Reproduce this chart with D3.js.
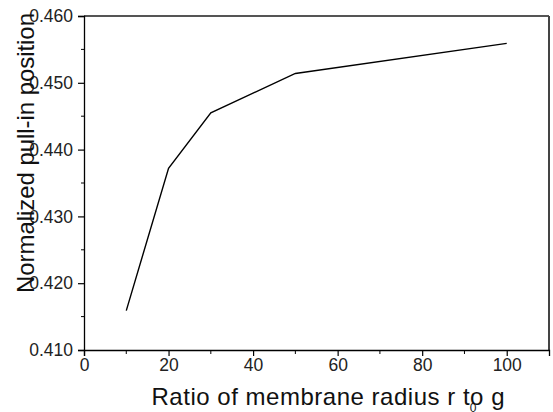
<!DOCTYPE html>
<html><head><meta charset="utf-8">
<script src="https://cdn.jsdelivr.net/npm/d3@7"></script>
<style>body{margin:0;background:#fff}svg{display:block}text{font-family:"Liberation Sans",Arial,sans-serif}</style>
</head><body><svg id="c" width="553" height="412"></svg>
<script>
const ratio = [10, 20, 30, 50, 100];
const pullIn = [0.4159, 0.4372, 0.4455, 0.4514, 0.4559];
const xTicks = [0, 20, 40, 60, 80, 100];
const xMinor = [10, 30, 50, 70, 90];
const yTicks = [0.410, 0.420, 0.430, 0.440, 0.450, 0.460];
const yMinor = [0.415, 0.425, 0.435, 0.445, 0.455];

const svg = d3.select("#c");
const L = 84, R = 549, T = 16, B = 350;
const x = d3.scaleLinear().domain([0, 110]).range([L, R]);
const y = d3.scaleLinear().domain([0.410, 0.460]).range([B, T]);

// frame top/right
svg.append("line").attr("x1", L).attr("x2", R).attr("y1", T).attr("y2", T).attr("stroke", "#555").attr("stroke-width", 2);
svg.append("line").attr("x1", R).attr("x2", R).attr("y1", T).attr("y2", B).attr("stroke", "#444").attr("stroke-width", 2);

const xa = svg.append("g").attr("transform", `translate(0,${B})`)
  .call(d3.axisBottom(x).tickValues(xTicks).tickFormat(d3.format("d")).tickSizeOuter(0).tickSize(6).tickPadding(3));
xa.append("g").selectAll("line").data(xMinor).join("line")
  .attr("x1", d => x(d)).attr("x2", d => x(d)).attr("y1", 0).attr("y2", 4).attr("stroke", "#000");
const ya = svg.append("g").attr("transform", `translate(${L},0)`)
  .call(d3.axisLeft(y).tickValues(yTicks).tickFormat(d3.format(".3f")).tickSizeOuter(0).tickSize(6).tickPadding(5));
ya.append("g").selectAll("line").data(yMinor).join("line")
  .attr("y1", d => y(d)).attr("y2", d => y(d)).attr("x1", 0).attr("x2", -3).attr("stroke", "#000");
[xa, ya].forEach(a => {
  a.attr("font-family", null);
  a.selectAll(".domain").attr("stroke", "#000").attr("stroke-width", 1.3);
  a.selectAll(".tick line").attr("stroke-width", 1.2);
  a.selectAll("text").attr("font-size", 17.5).attr("fill", "#222");
});

svg.append("path").datum(ratio.map((r, i) => [r, pullIn[i]]))
  .attr("d", d3.line().x(d => x(d[0])).y(d => y(d[1])))
  .attr("fill", "none").attr("stroke", "#000").attr("stroke-width", 1.4);

svg.append("text").attr("x", 328).attr("y", 405).attr("text-anchor", "middle")
  .attr("font-size", 24).attr("fill", "#111")
  .attr("textLength", 353).attr("lengthAdjust", "spacing")
  .text("Ratio of membrane radius r to g");
svg.append("text").attr("x", 473).attr("y", 412).attr("text-anchor", "middle")
  .attr("font-size", 12).attr("fill", "#111").text("0");
svg.append("text").attr("transform", "translate(34,153) rotate(-90)").attr("text-anchor", "middle")
  .attr("font-size", 24).attr("fill", "#111")
  .attr("textLength", 280).attr("lengthAdjust", "spacing")
  .text("Normalized pull-in position");
</script></body></html>
